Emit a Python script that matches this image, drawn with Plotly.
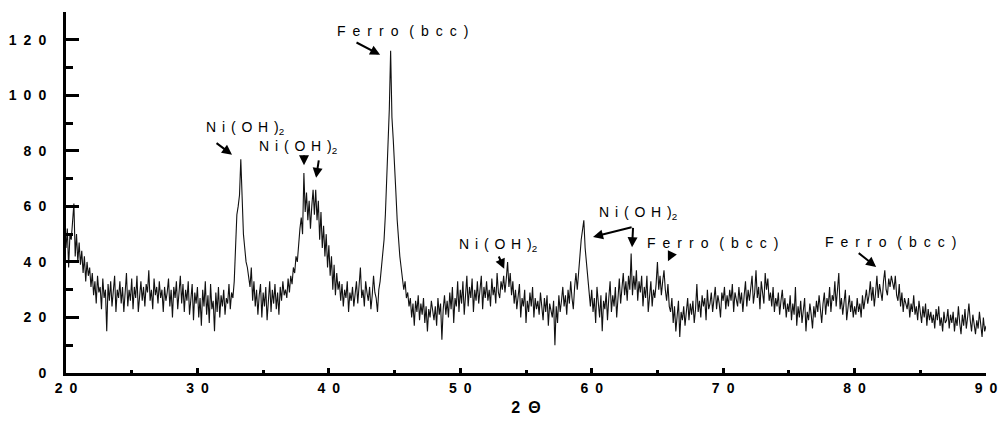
import numpy as np
import plotly.graph_objects as go

two_theta_start = 20.0
two_theta_step = 0.1
intensity = [
    45,52,38,50,48,55,61,42,50,40,
    47,39,44,36,42,33,40,35,38,31,
    36,28,33,25,35,29,31,23,34,27,
    30,15,32,26,33,24,29,35,22,30,
    27,33,25,31,22,29,36,24,30,26,
    34,23,31,27,35,22,28,33,26,31,
    24,32,29,37,26,30,23,34,28,31,
    25,33,27,30,22,31,26,29,34,24,
    30,20,31,27,33,23,29,35,25,32,
    22,30,26,33,21,28,32,19,29,25,
    31,20,27,17,30,24,33,21,28,18,
    32,23,26,15,29,22,31,20,28,24,
    30,21,27,25,32,23,29,27,33,45,
    57,60,64,77,62,50,45,40,38,35,
    31,38,26,33,24,30,21,28,32,20,
    29,24,31,19,27,33,22,30,25,32,
    23,29,21,31,26,33,28,30,27,34,
    29,35,32,38,36,42,40,48,52,56,
    50,72,58,65,55,62,52,60,66,57,
    66,55,62,48,58,45,53,42,50,38,
    46,35,42,30,39,28,36,30,33,26,
    32,24,30,27,33,22,29,26,31,24,
    28,33,25,31,38,27,30,24,33,29,
    26,31,23,28,35,29,27,22,30,33,
    38,42,48,57,68,82,95,116,92,84,
    76,65,55,48,42,38,34,30,33,27,
    29,24,27,20,25,17,26,22,28,19,
    25,21,27,18,24,15,23,20,26,22,
    19,24,17,27,21,25,12,23,28,21,
    26,20,29,23,31,18,27,24,33,22,
    30,25,33,21,28,35,24,31,27,34,
    22,30,26,33,25,29,35,23,31,27,
    33,26,30,24,34,28,31,25,36,29,
    27,33,30,35,29,34,40,31,36,28,
    33,25,30,23,28,32,20,27,24,30,
    18,26,22,29,24,31,20,27,23,26,
    21,29,24,19,27,22,28,17,25,23,
    20,26,10,24,18,28,22,26,31,24,
    28,21,30,25,33,27,23,31,36,30,
    38,42,48,52,55,45,40,33,28,24,
    30,22,27,18,31,24,20,28,15,26,
    23,29,19,27,33,22,28,24,31,20,
    27,34,25,31,36,28,33,26,35,30,
    43,28,35,30,37,26,33,29,35,24,
    31,27,35,22,29,33,24,30,27,32,
    40,30,35,28,33,37,30,26,32,24,
    22,27,18,24,15,21,26,13,22,19,
    24,17,22,27,19,25,21,26,18,23,
    32,22,26,20,28,24,27,19,30,23,
    25,29,22,27,31,23,28,25,20,29,
    26,31,23,28,24,30,26,32,22,29,
    27,24,31,25,29,22,28,33,24,30,
    26,32,35,25,29,37,27,31,23,33,
    28,25,36,30,34,26,29,24,31,22,
    27,24,29,21,26,30,23,27,20,25,
    22,28,19,25,21,31,17,24,20,26,
    18,23,27,15,22,19,25,21,16,24,
    20,26,22,28,23,18,25,29,21,27,
    24,31,22,28,26,33,24,29,36,23,
    27,21,25,30,19,24,28,22,26,20,
    24,21,27,22,25,20,28,23,26,30,
    25,28,33,26,31,24,29,35,27,32,
    29,26,33,37,30,28,34,31,35,33,
    30,35,28,26,32,24,29,22,27,25,
    23,27,20,25,22,28,21,24,19,26,
    22,18,24,20,25,17,23,19,22,18,
    21,16,23,19,24,17,20,15,22,18,
    19,23,16,21,18,22,15,20,17,24,
    18,14,21,17,23,16,20,25,19,15,
    21,17,14,19,16,22,18,13,20,15,
    17,
]
two_theta = np.round(two_theta_start + two_theta_step * np.arange(len(intensity)), 2)

x_ticks = [20, 30, 40, 50, 60, 70, 80, 90]
y_ticks = [0, 20, 40, 60, 80, 100, 120]

SP = "\u2002"
NSP = "\u2004\u200a"
NI = NSP.join(["N", "i", "(", "O", "H", ")"]) + "<sub>2</sub>"
FE = SP.join(["F", "e", "r", "r", "o"]) + SP + " " + SP.join(["(", "b", "c", "c", ")"])

# peak labels: (text, x, y)
peak_labels = [
    (NI, 33.62, 88.3),
    (NI, 37.62, 81.4),
    (FE, 45.57, 123.2),
    (NI, 52.88, 46.1),
    (NI, 63.53, 57.7),
    (FE, 69.16, 46.8),
    (FE, 82.71, 47.2),
]
# arrows: (tail_x, tail_y, head_x, head_y)
peak_arrows = [
    (31.34, 83.2, 32.63, 78.6),
    (38.11, 78.9, 38.11, 74.8),
    (39.25, 77.1, 39.03, 70.3),
    (41.99, 119.3, 43.9, 114.6),
    (52.88, 42.5, 53.34, 37.5),
    (63.15, 52.6, 60.1, 49.0),
    (63.15, 52.8, 63.07, 45.3),
    (66.11, 43.2, 65.8, 40.2),
    (80.2, 43.6, 81.64, 38.2),
]

fig = go.Figure()
fig.add_trace(go.Scatter(x=two_theta, y=intensity, mode="lines",
                         line=dict(color="#111111", width=1.1), showlegend=False))

font = dict(family="Liberation Sans, Arial, sans-serif", size=14, color="black")
for text, x, y in peak_labels:
    fig.add_annotation(x=x, y=y, xref="x", yref="y", text=text, showarrow=False,
                       font=font, xanchor="center", yanchor="middle")
for tx, ty, hx, hy in peak_arrows:
    fig.add_annotation(x=hx, y=hy, ax=tx, ay=ty, xref="x", yref="y", axref="x", ayref="y",
                       text="", showarrow=True, arrowhead=2, arrowsize=1.0,
                       arrowwidth=2, arrowcolor="black")

def spaced(v):
    return "<b>" + SP.join(str(v)) + "</b>"

tickfont = dict(family="Liberation Sans, Arial", size=14, color="black")

fig.update_layout(
    width=998, height=428,
    margin=dict(l=66, r=12, t=12, b=55),
    paper_bgcolor="white", plot_bgcolor="white",
    font=font,
    xaxis=dict(range=[20, 90], automargin=False, showline=True, linewidth=3, linecolor="black",
               showgrid=False, zeroline=False, ticks="inside", ticklen=5, tickwidth=3,
               tickcolor="black", tickvals=x_ticks, ticktext=[spaced(v) for v in x_ticks],
               tickfont=tickfont,
               minor=dict(tickvals=[25, 35, 45, 55, 65, 75, 85], ticks="inside", ticklen=3,
                          tickwidth=3, tickcolor="black"),
               title=dict(text="<b>2" + SP + "Θ</b>", font=dict(size=16, family="Liberation Sans, Arial"),
                          standoff=8)),
    yaxis=dict(range=[0, 130], automargin=False, showline=True, linewidth=3, linecolor="black",
               showgrid=False, zeroline=False, ticks="inside", ticklen=13, tickwidth=3,
               tickcolor="black", tickvals=y_ticks, ticktext=[spaced(v) for v in y_ticks],
               tickfont=tickfont,
               ticklabelstandoff=14,
               minor=dict(tickvals=[10, 30, 50, 70, 90, 110, 130], ticks="inside", ticklen=7,
                          tickwidth=3, tickcolor="black")),
)

fig.write_html("out.html")
